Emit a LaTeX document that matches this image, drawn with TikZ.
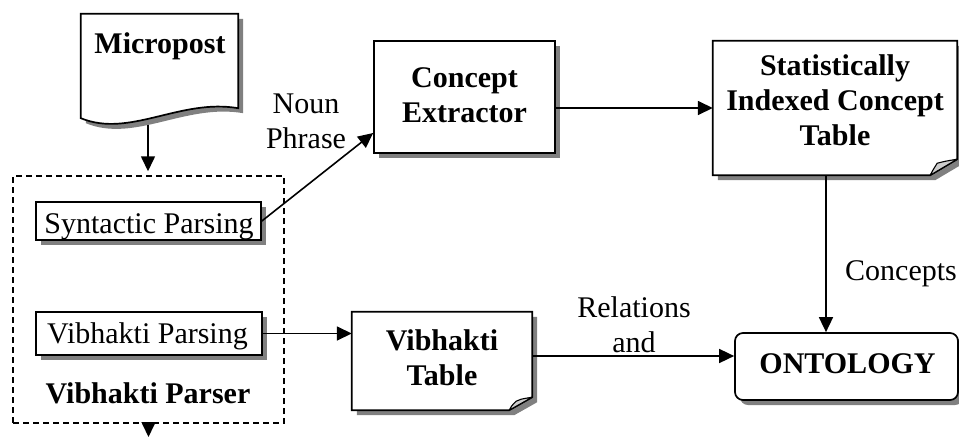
\documentclass[tikz,border=0pt]{standalone}
\usepackage{fontspec}
\setmainfont{Liberation Serif}
\usetikzlibrary{arrows.meta,shadows,calc}
\definecolor{shadowgray}{RGB}{128,128,128}
\definecolor{foldgray}{RGB}{205,205,205}
\newcommand\foldedbox[3]{%
  \fill[shadowgray] ($(#1.north west)+(5,5)$) -- ($(#1.north east)+(5,5)$) -- ($(#1.south east)+(5,5-#3)$) -- ($(#1.south east)+(5-#2,5)$) -- ($(#1.south west)+(5,5)$) -- cycle;
  \draw[boxline, fill=white] (#1.north west) -- (#1.north east) -- ($(#1.south east)+(0,-#3)$) -- ($(#1.south east)+(-#2,0)$) -- (#1.south west) -- cycle;
  \draw[line width=1.1pt, fill=foldgray, line join=round] ($(#1.south east)+(-#2,0)$) .. controls ($(#1.south east)+(-#2+2,-4)$) .. ($(#1.south east)+(-#2+7,-#3+4)$) .. controls ($(#1.south east)+(-12,-#3+2)$) .. ($(#1.south east)+(0,-#3)$) -- cycle;
}
\begin{document}
\begin{tikzpicture}[x=1pt,y=-1pt,
  txt/.style={font=\fontsize{30}{35}\selectfont, inner sep=0pt},
  btxt/.style={font=\fontsize{30}{35}\selectfont\bfseries, inner sep=0pt},
  boxline/.style={line width=1.7pt, line join=miter},
  shape0/.style={inner sep=0pt, draw=none},
  shbox/.style={draw, boxline, fill=white, inner sep=0pt,
    drop shadow={shadow xshift=5pt, shadow yshift=-5pt, fill=shadowgray, opacity=1}},
  arr/.style={line width=1.6pt, -{Triangle[length=15pt,width=14pt]}},
  dashbox/.style={draw, line width=1.5pt, dash pattern=on 6pt off 4pt, inner sep=0pt}
]
\useasboundingbox (0,0) rectangle (959,437);
\clip (0,0) rectangle (959,437);

% Micropost document
\node[shape0, minimum width=157pt, minimum height=104pt] (micro) at (159.5,66) {};
\fill[shadowgray] ($(micro.north west)+(5,5)$) -- ($(micro.north east)+(5,5)$) -- ($(micro.south east)+(5,-5)$)
  .. controls ($(micro.south east)+(-53,-15)$) and ($(micro.south west)+(54,25)$) .. ($(micro.south west)+(5,5)$) -- cycle;
\draw[boxline, fill=white] (micro.north west) -- (micro.north east) -- ($(micro.south east)+(0,-10)$)
  .. controls ($(micro.south east)+(-58,-20)$) and ($(micro.south west)+(49,20)$) .. (micro.south west) -- cycle;
\node[btxt, anchor=base] (microt) at (160,53) {Micropost};

% Vibhakti parser (dashed)
\node[dashbox, minimum width=271pt, minimum height=247pt] (parser) at (148.5,299.5) {};
\node[btxt, anchor=base] (parsert) at (148,403) {Vibhakti Parser};
\node[shbox, minimum width=225pt, minimum height=38pt] (syn) at (148.5,221) {};
\node[txt, anchor=base] (synt) at (149,233) {Syntactic Parsing};
\node[shbox, minimum width=226pt, minimum height=43pt] (vp) at (149,333.5) {};
\node[txt, anchor=base] (vpt) at (147.5,343) {Vibhakti Parsing};

% Concept extractor
\node[shbox, minimum width=181pt, minimum height=112pt] (ce) at (464.5,97) {};
\node[btxt] (cet) at (464.5,97.5) {\begin{tabular}{@{}c@{}}Concept\\Extractor\end{tabular}};

% Statistically indexed concept table
\node[shape0, minimum width=244pt, minimum height=134pt] (sict) at (835,108) {};
\foldedbox{sict}{27}{16}
\node[btxt] (sictt) at (835,103) {\begin{tabular}{@{}c@{}}Statistically\\Indexed Concept\\Table\end{tabular}};

% Vibhakti table
\node[shape0, minimum width=180pt, minimum height=98pt] (vt) at (442,361) {};
\foldedbox{vt}{23}{13}
\node[btxt] (vtt) at (442,360.5) {\begin{tabular}{@{}c@{}}Vibhakti\\Table\end{tabular}};

% Ontology
\node[shbox, rounded corners=8pt, minimum width=223pt, minimum height=67pt] (onto) at (846.5,366.5) {};
\node[btxt, anchor=base] (ontot) at (847.5,373) {ONTOLOGY};

% Labels
\node[txt] (np) at (306,123.5) {\begin{tabular}{@{}c@{}}Noun\\Phrase\end{tabular}};
\node[txt] (rel) at (634,327.5) {\begin{tabular}{@{}c@{}}Relations\\and\end{tabular}};
\node[txt, anchor=base west] (conc) at (845,280) {Concepts};

% Connectors
\coordinate (mb) at (148,125);
\draw[arr, shorten >=4pt] (mb) -- (mb |- parser.north);
\coordinate (pout) at (148.5,437);
\draw[arr] (parser.south) -- (pout);
\coordinate (y133) at (0,133);
\draw[arr] (syn.east) -- (ce.west |- y133);
\draw[arr] (ce.east |- sict.west) -- (sict.west);
\draw[arr] (vp.east) -- (vp.east -| vt.west);
\coordinate (x826) at (826,0);
\draw[arr] (sict.south -| x826) -- (onto.north -| x826);
\coordinate (y356) at (0,356);
\draw[arr] (vt.east |- y356) -- (onto.west |- y356);
\end{tikzpicture}
\end{document}
